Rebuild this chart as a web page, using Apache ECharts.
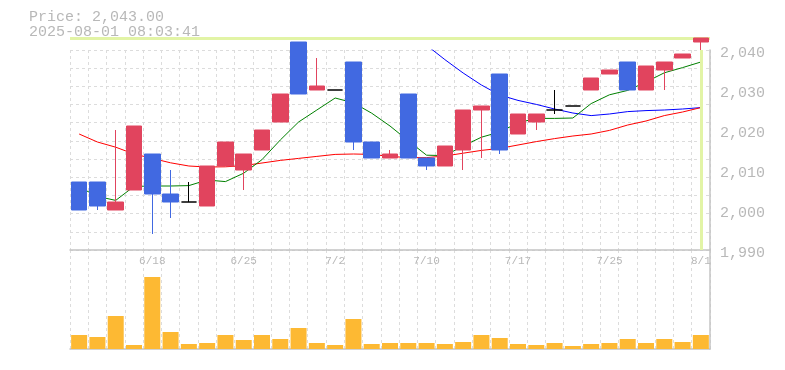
<!DOCTYPE html>
<html>
<head>
<meta charset="utf-8">
<script src="https://cdn.jsdelivr.net/npm/echarts@6/dist/echarts.min.js"></script>
<style>
html,body{margin:0;padding:0;background:#fff;}
#chart{width:785px;height:370px;}
</style>
</head>
<body>
<div id="chart"></div>
<script>
// ---- data ----
var dates = ['6/12','6/13','6/16','6/17','6/18','6/19','6/20','6/23','6/24','6/25',
             '6/26','6/27','6/30','7/1','7/2','7/3','7/4','7/7','7/8','7/10',
             '7/11','7/14','7/15','7/16','7/17','7/18','7/22','7/23','7/24','7/25',
             '7/28','7/29','7/30','7/31','8/1'];
var xTickLabels = ['6/18','6/25','7/2','7/10','7/17','7/25','8/1'];
var openP  = [2007,2007,2000,2005,2014,2004,2002,2001,2011,2010,2015,2022,2042,2030,2030,2037,2017,2013,2029,2013,2011,2015,2025,2034,2019,2022,2025,2026,2030,2034,2037,2030,2035,2038,2042];
var closeP = [2000,2001,2002,2021,2004,2002,2002,2011,2017,2014,2020,2029,2029,2031,2030,2017,2013,2014,2013,2011,2016,2025,2026,2015,2024,2024,2025,2026,2033,2035,2030,2036,2037,2039,2043];
var lowP   = [2000,2000,2000,2005,1994,1998,2002,2001,2011,2005,2015,2022,2029,2030,2030,2015,2013,2013,2013,2010,2011,2010,2013,2014,2019,2020,2024,2026,2030,2034,2030,2030,2030,2038,2040];
var highP  = [2007,2007,2020,2021,2014,2010,2007,2011,2017,2014,2020,2029,2042,2038,2030,2037,2017,2015,2029,2013,2016,2025,2026,2034,2024,2024,2030,2026,2033,2035,2037,2036,2037,2039,2043];
var maShort = [2005.75,2003.4,2002.4,2005.9,2006,2006,2006.1,2007.5,2007.1,2009.2,2012.6,2017.5,2022,2025,2028,2026.8,2024.2,2021,2017.3,2013.7,2013.6,2016,2018.2,2019.5,2021.8,2022.9,2022.9,2023,2026.6,2028.8,2029.9,2032,2034.3,2035.6,2037];
var maMid = [2019,2017,2015.7,2014,2012.9,2011.8,2011,2010.75,2010.8,2011.1,2011.75,2012.4,2012.9,2013.4,2013.9,2014,2013.9,2013.4,2013.1,2013.1,2013.5,2014.2,2014.9,2015.4,2016.25,2017.1,2017.85,2018.5,2019,2019.9,2021.25,2022.25,2023.6,2024.5,2025.6];
var maLong = ['-','-','-','-','-','-','-','-','-','-','-','-','-','-','-','-','-','-','-',2041.2,2037.6,2034.25,2031.25,2028.75,2027.4,2026.4,2025.25,2024.25,2023.6,2024,2024.6,2024.85,2025,2025.25,2025.6];
var volume = [1400,1200,3300,400,7200,1700,500,600,1400,900,1400,1000,2100,600,400,3000,500,600,600,600,500,700,1400,1100,500,400,600,300,500,600,1000,600,1000,700,1400];
var yTicks = [1990,2000,2010,2020,2030,2040];
var stamp = '2025-08-01 08:03:41';

// ---- build ----
var lastClose = closeP[closeP.length-1];
var kData = dates.map(function(d,i){ return [openP[i], closeP[i], lowP[i], highP[i]]; });
var yMin = yTicks[0], yMax = yTicks[yTicks.length-1];
// overlay axis: same price scale, extended upward to the top of the canvas (grid 0 top=50, 200px for 50 units)
var overlayMax = yMax + (yMax - yMin) * 50 / 200;
var MONO = '"Liberation Mono", "DejaVu Sans Mono", monospace';
var GRAY = '#b8b8b8';
var DASH = {color:'#dcdcdc', type:[3,3], width:1};
var BORDER = {show:true, lineStyle:{color:'#c4c4c4', width:1.5}};

var chart = echarts.init(document.getElementById('chart'), null, {renderer:'canvas'});
chart.setOption({
  animation:false,
  backgroundColor:'#fff',
  title:{
    text:'Price: ' + lastClose.toLocaleString('en-US',{minimumFractionDigits:2, maximumFractionDigits:2}) + '\n' + stamp,
    left:29, top:10, padding:0,
    textStyle:{fontFamily:MONO, fontSize:15, fontWeight:'normal', color:GRAY, lineHeight:15}
  },
  grid:[
    {left:70, right:75, top:50, height:200},
    {left:70, right:75, top:250, height:99},
    {left:70, right:75, top:0, height:250}
  ],
  xAxis:[
    {type:'category', gridIndex:0, data:dates, boundaryGap:true,
     axisLine:BORDER, axisTick:{show:false},
     splitLine:{show:true, interval:0, lineStyle:DASH},
     axisLabel:{show:true, margin:6, fontFamily:MONO, fontSize:11, color:GRAY,
       interval:function(idx, val){ return xTickLabels.indexOf(val) >= 0; }}
    },
    {type:'category', gridIndex:1, data:dates, boundaryGap:true,
     axisLine:BORDER, axisTick:{show:false}, axisLabel:{show:false},
     splitLine:{show:true, interval:0, lineStyle:DASH}
    },
    {type:'category', gridIndex:2, data:dates, boundaryGap:true, show:false}
  ],
  yAxis:[
    {type:'value', gridIndex:0, position:'right', min:yMin, max:yMax, interval:10,
     axisLine:BORDER, axisTick:{show:false}, splitLine:{show:false},
     axisLabel:{margin:10, fontFamily:MONO, fontSize:15, color:GRAY, verticalAlign:'top', lineHeight:6,
       formatter:function(v){ return v.toLocaleString('en-US'); }}
    },
    {type:'value', gridIndex:0, position:'left', min:0, max:11, interval:1,
     axisLine:{show:false}, axisTick:{show:false}, axisLabel:{show:false},
     splitLine:{show:true, lineStyle:DASH}
    },
    {type:'value', gridIndex:1, position:'right', min:0, max:9900,
     axisLine:BORDER, axisTick:{show:false}, axisLabel:{show:false}, splitLine:{show:false}
    },
    {type:'value', gridIndex:2, min:yMin, max:overlayMax, show:false}
  ],
  series:[
    {type:'line', name:'price', xAxisIndex:2, yAxisIndex:3, data:[], z:2,
     markLine:{silent:true, symbol:'none', label:{show:false},
       lineStyle:{color:'#e2f4a6', width:3, type:'solid'},
       data:[{yAxis:lastClose}]}
    },
    {type:'line', name:'MA75', xAxisIndex:0, yAxisIndex:0, data:maLong, showSymbol:false, symbol:'none',
     lineStyle:{color:'#0000ff', width:1}, z:3},
    {type:'line', name:'MA25', xAxisIndex:0, yAxisIndex:0, data:maMid, showSymbol:false, symbol:'none',
     lineStyle:{color:'#ff0000', width:1}, z:3,
     markLine:{silent:true, symbol:'none', label:{show:false},
       lineStyle:{color:'#e2f4a6', width:3, type:'solid'},
       data:[{xAxis:dates[dates.length-1]}]}
    },
    {type:'line', name:'MA5', xAxisIndex:0, yAxisIndex:0, data:maShort, showSymbol:false, symbol:'none',
     lineStyle:{color:'#008000', width:1}, z:3},
    {type:'candlestick', xAxisIndex:0, yAxisIndex:0, data:kData, barWidth:16, clip:false, z:5,
     itemStyle:{color:'#e1445e', color0:'#4169e1', borderColor:'#e1445e', borderColor0:'#4169e1',
       borderColorDoji:'#000000', borderWidth:1}
    },
    {type:'bar', xAxisIndex:1, yAxisIndex:2, data:volume, barWidth:16,
     itemStyle:{color:'#fdb933'}}
  ]
});
</script>
</body>
</html>
